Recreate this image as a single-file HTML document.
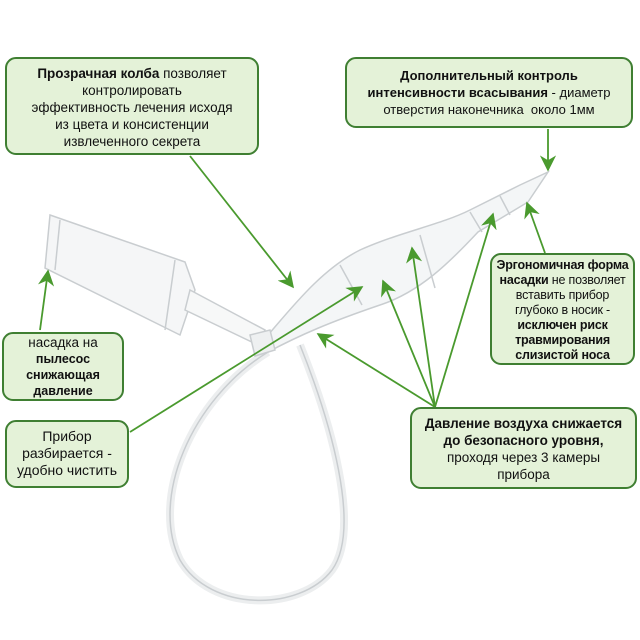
<!DOCTYPE html>
<html><head><meta charset="utf-8"><style>
body{margin:0;width:640px;height:640px;background:#fff;position:relative;overflow:hidden;font-family:"Liberation Sans",sans-serif;}
.b{position:absolute;background:#e4f2d8;border:2px solid #3f7f32;border-radius:11px;box-sizing:border-box;text-align:center;color:#111;font-size:13.5px;line-height:17px;}
svg{position:absolute;left:0;top:0}
</style></head><body>
<svg width="640" height="640" viewBox="0 0 640 640">
<defs><marker id="a" viewBox="0 0 10 10" refX="9" refY="5" markerWidth="9" markerHeight="9" orient="auto-start-reverse"><path d="M0,0 L10,5 L0,10 L3,5z" fill="#4a9a2e"/></marker></defs>
<g fill="none" stroke="#c9cdd0" stroke-width="1.5">
<path d="M268,352 C190,400 150,500 180,560 C210,612 300,612 332,570 C362,528 330,420 300,345" stroke-width="8" stroke="#eceeef"/>
<path d="M268,352 C190,400 150,500 180,560 C210,612 300,612 332,570 C362,528 330,420 300,345"/>
<path d="M50,215 L185,262 L195,290 L180,335 L45,268 Z" fill="#f5f6f7"/>
<path d="M175,260 L165,330 M60,220 L55,270"/>
<path d="M190,290 L265,330 L258,345 L185,310 Z" fill="#f7f8f8"/>
<path d="M262,342 C290,310 320,270 360,250 C400,232 440,225 470,210 L520,185 L548,172 L528,202 L478,232 C450,262 420,292 380,305 C330,322 300,335 268,352 Z" fill="#f4f6f7"/>
<path d="M340,265 L362,305 M420,235 L435,288 M470,212 L482,232 M500,196 L510,215"/>
<path d="M250,335 L270,330 L275,350 L255,356 Z" fill="#eef0f1"/>
</g>
<g stroke="#4a9a2e" stroke-width="1.8" fill="none" marker-end="url(#a)">
<line x1="190" y1="156" x2="293" y2="287"/>
<line x1="548" y1="129" x2="548" y2="170"/>
<line x1="545" y1="253" x2="527" y2="203"/>
<line x1="435" y1="407" x2="493" y2="214"/>
<line x1="435" y1="407" x2="412" y2="248"/>
<line x1="435" y1="407" x2="383" y2="281"/>
<line x1="435" y1="407" x2="318" y2="334"/>
<line x1="40" y1="330" x2="48" y2="271"/>
<line x1="130" y1="432" x2="362" y2="287"/>
</g>
</svg>
<div class="b" style="left:5px;top:57px;width:254px;height:98px;padding-top:6px;"><b>Прозрачная колба</b> позволяет<br>контролировать<br>эффективность лечения исходя<br>из цвета и консистенции<br>извлеченного секрета</div>
<div class="b" style="left:345px;top:57px;width:288px;height:71px;padding-top:8px;font-size:13px;"><b>Дополнительный контроль<br>интенсивности всасывания</b> - диаметр<br>отверстия наконечника&nbsp; около 1мм</div>
<div class="b" style="left:490px;top:253px;width:145px;height:112px;padding-top:3px;font-size:12.5px;line-height:15px;letter-spacing:-0.2px;white-space:nowrap;"><b>Эргономичная форма<br>насадки</b> не позволяет<br>вставить прибор<br>глубоко в носик -<br><b>исключен риск<br>травмирования<br>слизистой носа</b></div>
<div class="b" style="left:410px;top:407px;width:227px;height:82px;padding-top:6px;font-size:13.5px;"><b>Давление воздуха снижается<br>до безопасного уровня,</b><br>проходя через 3 камеры<br>прибора</div>
<div class="b" style="left:2px;top:332px;width:122px;height:69px;padding-top:1px;font-size:12.5px;line-height:16px;"><span style="font-size:13.5px">насадка на</span><br><b>пылесос<br>снижающая<br>давление</b></div>
<div class="b" style="left:5px;top:420px;width:124px;height:68px;padding-top:6px;font-size:14px;">Прибор<br>разбирается -<br>удобно чистить</div>
</body></html>
